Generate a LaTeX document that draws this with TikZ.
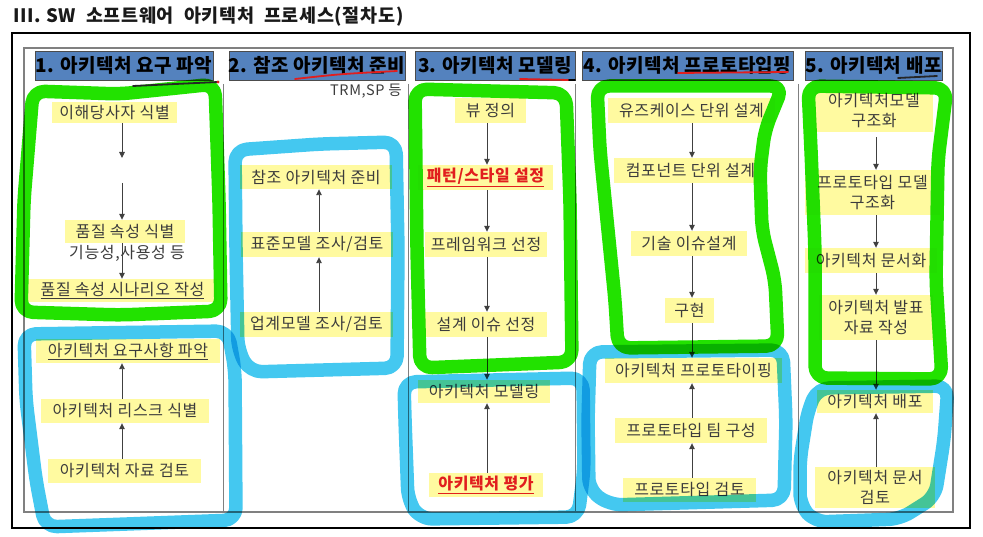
\documentclass[tikz,border=0pt]{standalone}
\usepackage{fontspec}
\setmainfont{Noto Sans CJK KR}
\newfontfamily\bodyfont[LetterSpace=4]{Noto Sans CJK KR}
\newfontfamily\headfont[LetterSpace=2]{Noto Sans CJK KR}
\newfontfamily\titlefont[LetterSpace=3.5]{Noto Sans CJK KR}
\usetikzlibrary{arrows.meta}
\definecolor{hdr}{RGB}{84,130,190}
\definecolor{ylw}{RGB}{255,250,160}
\definecolor{txt}{RGB}{60,60,60}
\definecolor{hlg}{RGB}{34,226,0}
\definecolor{hlb}{RGB}{68,200,240}
\definecolor{penred}{RGB}{225,30,30}
\newcommand{\tsp}{\hspace{0.55em}}
\tikzset{
  ybox/.style={fill=ylw, text=txt, inner sep=0pt, align=center, font=\bodyfont\fontsize{16}{20}\selectfont},
  hbox/.style={fill=hdr, draw=black!70, line width=0.8pt, inner sep=0pt, minimum height=29pt, font=\headfont\bfseries\fontsize{19}{21}\selectfont, text=black},
  arr/.style={-{Triangle[width=5.5pt,length=6pt]}, draw=black!75, line width=0.9pt},
  hl/.style={line width=13.5pt, line join=round, line cap=round, rounded corners=12pt},
  pen/.style={line width=1.8pt, line cap=round},
  redtxt/.style={text=penred, font=\bodyfont\bfseries\fontsize{16}{20}\selectfont}
}
\begin{document}
\begin{tikzpicture}[x=1pt,y=-1pt]
\useasboundingbox (0,0) rectangle (983,537);
\fill[white] (0,0) rectangle (983,537);
\node[anchor=west, text=black!90, font=\titlefont\bfseries\fontsize{18.5}{21}\selectfont] (title) at (10,17) {III. SW\tsp 소프트웨어\tsp 아키텍처\tsp 프로세스(절차도)};
% frames
\draw[black, line width=1.2pt] (12,33) rectangle (970,528);
\draw[black!50, line width=1.2pt] (24,48) rectangle (953,512);
\foreach \x in {223,408,575,798} \draw[black!50, line width=1pt] (\x,84) -- (\x,512);
% headers
\node[hbox, minimum width=178pt] (h1) at (124,65.5) {1. 아키텍처 요구 파악};
\node[hbox, minimum width=176pt] (h2) at (317,65.5) {2. 참조 아키텍처 준비};
\node[hbox, minimum width=160pt] (h3) at (495,65.5) {3. 아키텍처 모델링};
\node[hbox, minimum width=211pt] (h4) at (687.5,65.5) {4. 아키텍처 프로토타입핑};
\node[hbox, minimum width=137pt] (h5) at (873.5,65.5) {5. 아키텍처 배포};
% column 1
\node[ybox, minimum width=125pt, minimum height=21pt] (n11) at (114.5,112.5) {이해당사자 식별};
\node[ybox, minimum width=120pt, minimum height=23pt] (n12) at (125,231.5) {품질 속성 식별};
\node[text=txt, inner sep=0pt, font=\bodyfont\fontsize{16}{20}\selectfont] (t13) at (127,253) {기능성,사용성 등};
\node[ybox, minimum width=189pt, minimum height=23pt] (n14) at (122.5,290.5) {\underline{품질 속성 시나리오 작성}};
\node[ybox, minimum width=184pt, minimum height=24pt] (n15) at (128,351) {\underline{아키텍처 요구사항 파악}};
\node[ybox, minimum width=168pt, minimum height=24pt] (n16) at (125,411) {아키텍처 리스크 식별};
\node[ybox, minimum width=153pt, minimum height=24pt] (n17) at (124.5,471) {아키텍처 자료 검토};
\coordinate (a1) at (122,0);
\coordinate (c1a) at (122,158);
\coordinate (c1b) at (122,183);
\draw[arr] (n11.south -| a1) -- (c1a);
\draw[arr] (c1b) -- (n12.north -| a1);
\draw[arr] (n12.south -| a1) -- (n14.north -| a1);
\draw[arr] (n16.north -| a1) -- (n15.south -| a1);
\draw[arr] (n17.north -| a1) -- (n16.south -| a1);
% column 2
\node[anchor=east, text=txt, inner sep=0pt, font=\bodyfont\fontsize{14.5}{16}\selectfont] (trm) at (402,91) {TRM,SP 등};
\node[ybox, minimum width=152pt, minimum height=24pt] (n21) at (316,177) {참조 아키텍처 준비};
\node[ybox, minimum width=152pt, minimum height=25pt] (n22) at (317,244.5) {표준모델 조사/검토};
\node[ybox, minimum width=153pt, minimum height=25pt] (n23) at (316.5,324.5) {업계모델 조사/검토};
\coordinate (a2) at (319,0);
\draw[arr] (n23.north -| a2) -- (n22.south -| a2);
\draw[arr] (n22.north -| a2) -- (n21.south -| a2);
% column 3
\node[ybox, minimum width=71pt, minimum height=25pt] (n31) at (490.5,110.5) {뷰 정의};
\node[ybox, redtxt, minimum width=135pt, minimum height=25pt] (n32) at (485.5,177.5) {\underline{패턴/스타일 설정}};
\node[ybox, minimum width=122pt, minimum height=25pt] (n33) at (486,244.5) {프레임워크 선정};
\node[ybox, minimum width=122pt, minimum height=25pt] (n34) at (486,324.5) {설계 이슈 선정};
\node[ybox, minimum width=132pt, minimum height=23pt] (n35) at (484,391.5) {아키텍처 모델링};
\node[ybox, redtxt, minimum width=114pt, minimum height=24pt] (n36) at (486,485) {\underline{아키텍처 평가}};
\coordinate (a3) at (487,0);
\draw[arr] (n31.south -| a3) -- (n32.north -| a3);
\draw[arr] (n32.south -| a3) -- (n33.north -| a3);
\draw[arr] (n33.south -| a3) -- (n34.north -| a3);
\draw[arr] (n34.south -| a3) -- (n35.north -| a3);
\draw[arr] (n36.north -| a3) -- (n35.south -| a3);
% column 4
\node[ybox, minimum width=167pt, minimum height=25pt] (n41) at (691.5,110.5) {유즈케이스 단위 설계};
\node[ybox, minimum width=153pt, minimum height=25pt] (n42) at (690.5,170.5) {컴포넌트 단위 설계};
\node[ybox, minimum width=116pt, minimum height=25pt] (n43) at (689,243.5) {기술 이슈설계};
\node[ybox, minimum width=49pt, minimum height=25pt] (n44) at (689.5,310.5) {구현};
\node[ybox, minimum width=177pt, minimum height=25pt] (n45) at (693.5,370.5) {아키텍처 프로토타이핑};
\node[ybox, minimum width=152pt, minimum height=25pt] (n46) at (691,430.5) {프로토타입 팀 구성};
\node[ybox, minimum width=133pt, minimum height=24pt] (n47) at (689.5,490) {프로토타입 검토};
\coordinate (a4) at (692,0);
\draw[arr] (n41.south -| a4) -- (n42.north -| a4);
\draw[arr] (n42.south -| a4) -- (n43.north -| a4);
\draw[arr] (n43.south -| a4) -- (n44.north -| a4);
\draw[arr] (n44.south -| a4) -- (n45.north -| a4);
\draw[arr] (n46.north -| a4) -- (n45.south -| a4);
\draw[arr] (n47.north -| a4) -- (n46.south -| a4);
% column 5
\node[ybox, minimum width=118pt, minimum height=42pt] (n51) at (874,111) {아키텍처모델\\구조화};
\node[ybox, minimum width=135pt, minimum height=45pt] (n52) at (872.5,192.5) {프로토타입 모델\\구조화};
\node[ybox, minimum width=132pt, minimum height=25pt] (n53) at (871,260.5) {아키텍처 문서화};
\node[ybox, minimum width=114pt, minimum height=45pt] (n54) at (876,317.5) {아키텍처 발표\\자료 작성};
\node[ybox, minimum width=116pt, minimum height=23pt] (n55) at (875,401.5) {아키텍처 배포};
\node[ybox, minimum width=120pt, minimum height=41pt] (n56) at (875,487.5) {아키텍처 문서\\검토};
\coordinate (a5) at (876,0);
\draw[arr, shorten <=5pt] (n51.south -| a5) -- (n52.north -| a5);
\draw[arr] (n52.south -| a5) -- (n53.north -| a5);
\draw[arr] (n53.south -| a5) -- (n54.north -| a5);
\draw[arr] (n54.south -| a5) -- (n55.north -| a5);
\draw[arr] (n56.north -| a5) -- (n55.south -| a5);
% highlighter strokes
\begin{scope}[blend mode=multiply]
\draw[hl, hlb] (24,334) -- (228,331) -- (235,370) -- (236,520) -- (45,527) -- (36,480) -- (26,400) -- cycle;
\draw[hl, hlb] (235,150) -- (320,144) -- (396,142) -- (398,250) -- (397,368) -- (250,372) -- (238,350) -- (236,250) -- cycle;
\draw[hl, hlb] (404,382) -- (583,378) -- (584,470) -- (578,517) -- (420,519) -- (408,500) -- (405,420) -- cycle;
\draw[hl, hlb] (590,352) -- (783,350) -- (786,420) -- (784,500) -- (610,505) -- (589,490) -- (588,420) -- cycle;
\draw[hl, hlb] (818,388) -- (948,386) -- (944,440) -- (935,497) -- (900,519) -- (815,522) -- (800,505) -- (800,460) -- (808,410) -- cycle;
\draw[hl, hlg] (33,91) -- (120,94) -- (215,84) -- (219,200) -- (221,311) -- (120,315) -- (21,312) -- (24,200) -- cycle;
\draw[hl, hlg] (415,89) -- (566,93) -- (570,200) -- (572,362) -- (420,368) -- (417,250) -- cycle;
\draw[hl, hlg] (597,86) -- (783,86) -- (765,130) -- (760,170) -- (762,230) -- (775,280) -- (778,346) -- (618,348) -- (615,300) -- (600,150) -- cycle;
\draw[hl, hlg] (808,86) -- (947,88) -- (938,160) -- (936,280) -- (942,379) -- (815,378) -- (815,250) -- (811,150) -- cycle;
\end{scope}
% pen marks
\draw[pen, black!85] (133,86) -- (218,82);
\fill[penred] (218,82) circle (1.6);
\draw[pen, penred] (295,79) .. controls (340,74) .. (397,71);
\draw[pen, penred] (520,79) -- (569,80);
\draw[pen, black] (569,80) -- (575,80);
\draw[pen, penred] (678,73) -- (788,72);
\draw[pen, black!85] (898,78) -- (937,76);
\end{tikzpicture}
\end{document}
